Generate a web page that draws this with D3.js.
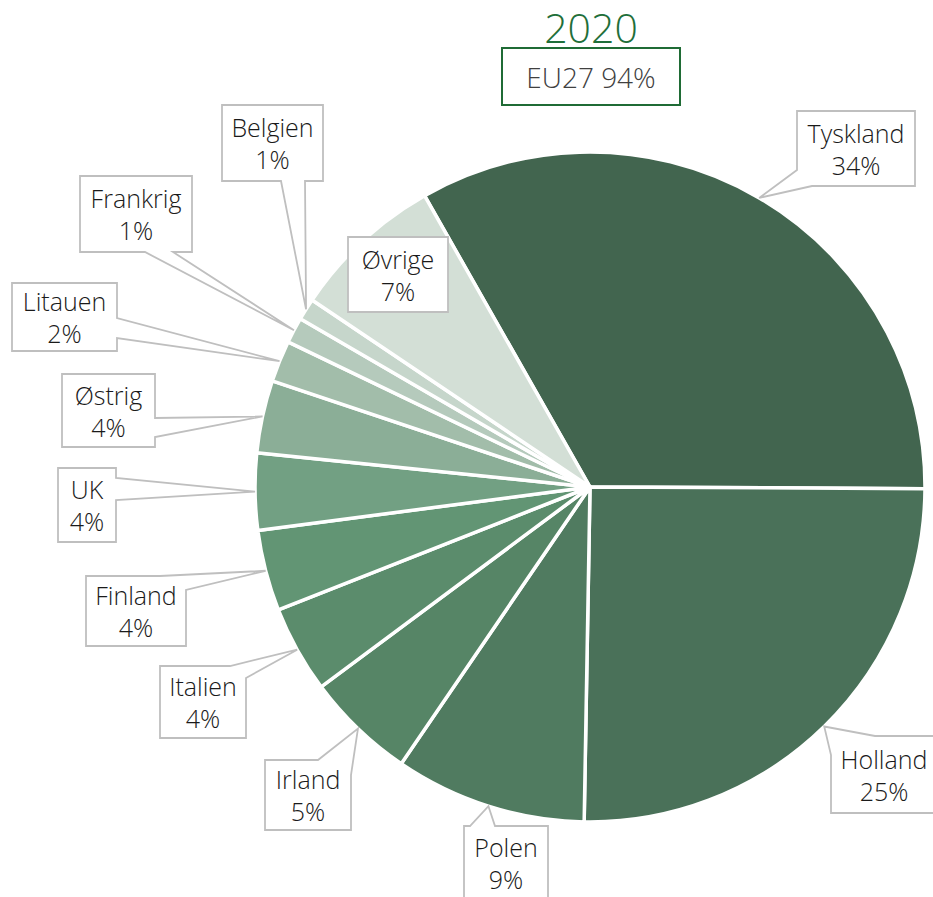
<!DOCTYPE html>
<html>
<head>
<meta charset="utf-8">
<script src="https://cdn.jsdelivr.net/npm/d3@7"></script>
<style>
  body { margin: 0; background: #fff; }
  svg { display: block; font-family: "Open Sans", "Noto Sans", sans-serif; font-weight: 300; }
</style>
</head>
<body>
<svg id="chart"></svg>
<script>
// slices, clockwise from Tyskland
const countries = ['Tyskland', 'Holland', 'Polen', 'Irland', 'Italien', 'Finland', 'UK', 'Østrig', 'Litauen', 'Frankrig', 'Belgien', 'Øvrige'];
const shares = [33.3, 25.2, 9.25, 5.3, 4.2, 3.9, 3.7, 3.5, 2.0, 1.25, 1.05, 7.35];
const pctLabels = ['34%', '25%', '9%', '5%', '4%', '4%', '4%', '4%', '2%', '1%', '1%', '7%'];
const title = '2020';
const subtitle = 'EU27 94%';

const colors = ['#42654f', '#4a7159', '#507b60', '#568566', '#5b8c6c', '#629574',
                '#72a083', '#8bae97', '#a2bdaa', '#b5cabc', '#c6d6cb', '#d3dfd6'];

// callout boxes: centre, size, wedge base as perimeter positions (clockwise from top-left)
const labelLayout = [
  {cx: 856, cy: 148.5, w: 118, h: 75, wedge: [296, 327]},
  {cx: 884, cy: 774.5, w: 106, h: 77, wedge: [347, 410]},
  {cx: 506, cy: 863, w: 84, h: 74, wedge: [6, 31]},
  {cx: 308, cy: 795, w: 86, h: 70, wedge: [53, 101]},
  {cx: 203, cy: 702, w: 86, h: 72, wedge: [70, 98]},
  {cx: 136, cy: 611, w: 100, h: 70, wedge: [74, 114]},
  {cx: 87, cy: 505, w: 58, h: 74, wedge: [68, 90]},
  {cx: 108.5, cy: 410.5, w: 93, h: 73, wedge: [137, 156]},
  {cx: 64.5, cy: 317, w: 105, h: 68, wedge: [140, 160]},
  {cx: 136, cy: 214, w: 112, h: 76, wedge: [207, 235]},
  {cx: 272.5, cy: 143, w: 101, h: 76, wedge: [195, 219]},
  {cx: 398, cy: 274.5, w: 100, h: 75, wedge: null}
];

const width = 933, height = 897;
const cx = 590, cy = 487, radius = 335;

const svg = d3.select('#chart')
  .attr('width', width)
  .attr('height', height);

const data = countries.map((c, i) => ({name: c, value: shares[i], pct: pctLabels[i], color: colors[i], layout: labelLayout[i]}));

const start = -29.6 * Math.PI / 180;
const pie = d3.pie()
  .sort(null)
  .value(d => d.value)
  .startAngle(start)
  .endAngle(start + 2 * Math.PI);

const arc = d3.arc().innerRadius(0).outerRadius(radius);
const edge = d3.arc().innerRadius(radius).outerRadius(radius);

const arcs = pie(data);

const g = svg.append('g').attr('transform', `translate(${cx},${cy})`);

g.selectAll('path.slice')
  .data(arcs)
  .enter()
  .append('path')
  .attr('class', 'slice')
  .attr('d', arc)
  .attr('fill', d => d.data.color)
  .attr('stroke', '#fff')
  .attr('stroke-width', 3.5)
  .attr('stroke-linejoin', 'round');

// callout outline: rectangle with a wedge running out to the tip
function calloutPath(b, tip) {
  const x0 = b.cx - b.w / 2, y0 = b.cy - b.h / 2, w = b.w, h = b.h;
  const P = 2 * w + 2 * h;
  const pt = t => {
    t = ((t % P) + P) % P;
    if (t <= w) return [x0 + t, y0];
    if (t <= w + h) return [x0 + w, y0 + (t - w)];
    if (t <= 2 * w + h) return [x0 + w - (t - w - h), y0 + h];
    return [x0, y0 + h - (t - 2 * w - h)];
  };
  const p = d3.path();
  if (!b.wedge) {
    p.rect(x0, y0, w, h);
    return p.toString();
  }
  const [t1, t2] = b.wedge;
  const corners = [0, w, w + h, 2 * w + h, P, P + w, P + w + h, P + 2 * w + h, 2 * P];
  const s = pt(t2);
  p.moveTo(s[0], s[1]);
  corners.filter(c => c > t2 && c < t1 + P).forEach(c => {
    const q = pt(c);
    p.lineTo(q[0], q[1]);
  });
  const e = pt(t1);
  p.lineTo(e[0], e[1]);
  p.lineTo(tip[0], tip[1]);
  p.closePath();
  return p.toString();
}

const labels = svg.selectAll('g.callout')
  .data(arcs)
  .enter()
  .append('g')
  .attr('class', 'callout');

labels.append('path')
  .attr('d', d => {
    const c = edge.centroid(d);
    return calloutPath(d.data.layout, [c[0] + cx, c[1] + cy]);
  })
  .attr('fill', '#fff')
  .attr('stroke', '#bfbfbf')
  .attr('stroke-width', 1.8)
  .attr('stroke-linejoin', 'miter');

labels.append('text')
  .attr('x', d => d.data.layout.cx)
  .attr('y', d => d.data.layout.cy - 6)
  .attr('text-anchor', 'middle')
  .style('font-size', '25px')
  .style('fill', '#1a1a1a')
  .text(d => d.data.name);

labels.append('text')
  .attr('x', d => d.data.layout.cx)
  .attr('y', d => d.data.layout.cy + 26)
  .attr('text-anchor', 'middle')
  .style('font-size', '25px')
  .style('fill', '#1a1a1a')
  .text(d => d.data.pct);

// title and EU27 box
svg.append('text')
  .attr('x', 591)
  .attr('y', 43)
  .attr('text-anchor', 'middle')
  .style('font-size', '41px')
  .style('fill', '#1f6f3a')
  .text(title);

svg.append('rect')
  .attr('x', 502)
  .attr('y', 48)
  .attr('width', 178)
  .attr('height', 57)
  .attr('fill', '#fff')
  .attr('stroke', '#1f6b35')
  .attr('stroke-width', 2);

svg.append('text')
  .attr('x', 591)
  .attr('y', 88)
  .attr('text-anchor', 'middle')
  .style('font-size', '28px')
  .style('fill', '#404040')
  .text(subtitle);
</script>
</body>
</html>
